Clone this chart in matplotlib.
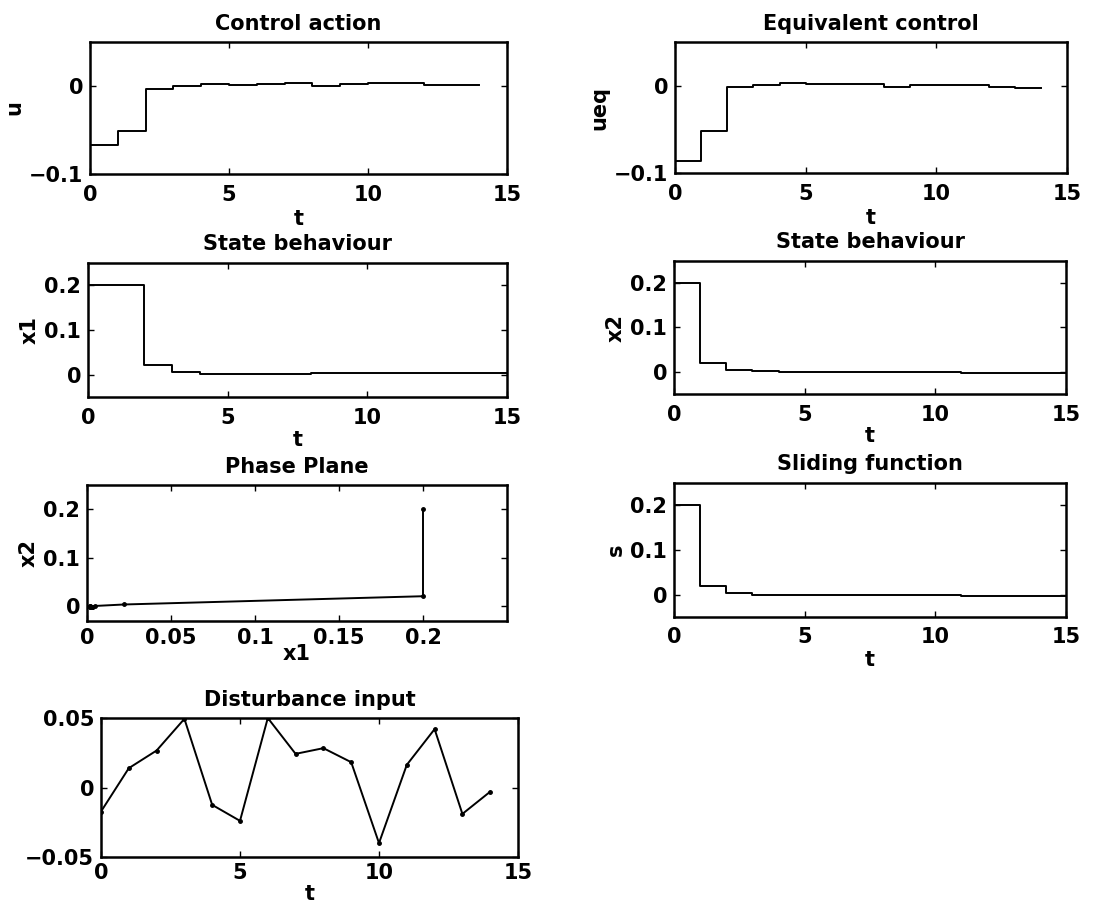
import numpy as np
import matplotlib.pyplot as plt

plt.rcParams['font.family'] = ['DejaVu Sans']
plt.rcParams['font.size'] = 15
plt.rcParams['font.weight'] = 'bold'
plt.rcParams['axes.titleweight'] = 'bold'
plt.rcParams['axes.labelweight'] = 'bold'

# ------------------------------ Data ------------------------------

t_ctrl = np.arange(0, 15)          # 0..14
u = [-0.067, -0.051, -0.003, 0.000, 0.002, 0.001, 0.002, 0.003,
     0.000, 0.002, 0.003, 0.003, 0.001, 0.001, 0.001]
ueq = [-0.086, -0.052, -0.002, 0.001, 0.003, 0.002, 0.002, 0.002,
       -0.001, 0.001, 0.001, 0.001, -0.002, -0.003, -0.003]

t_state = np.arange(0, 16)         # 0..15
x1 = [0.2, 0.2, 0.022, 0.005, 0.002, 0.002, 0.002, 0.002,
      0.003, 0.003, 0.003, 0.003, 0.003, 0.003, 0.003, 0.003]
x2 = [0.2, 0.021, 0.004, 0.001, 0.0, 0.0, -0.001, -0.001,
      -0.001, -0.001, -0.001, -0.002, -0.002, -0.002, -0.002, -0.002]
s = [0.2, 0.0205, 0.004, 0.0, 0.0, 0.0, -0.001, -0.001,
     -0.001, -0.001, -0.001, -0.002, -0.002, -0.002, -0.002, -0.002]

t_dist = np.arange(0, 15)
d = [-0.0173, 0.0139, 0.0266, 0.0494, -0.0125, -0.024, 0.050, 0.0242,
     0.0283, 0.0182, -0.040, 0.0163, 0.042, -0.019, -0.003]

# ------------------------------ Layout helpers ------------------------------

W, H = 1118, 907
fig = plt.figure(figsize=(W / 100, H / 100), dpi=100)


def axes_px(left, top, right, bottom, xpad=5):
    ax = fig.add_axes([left / W, 1 - bottom / H, (right - left) / W, (bottom - top) / H])
    ax.tick_params(direction='in', top=True, right=True, length=4, width=1,
                   labelsize=15, pad=5)
    ax.tick_params(axis='x', pad=xpad)
    for sp in ax.spines.values():
        sp.set_linewidth(1.8)
    return ax


def style(ax, title, xlabel, ylabel, xpad=4):
    ax.set_title(title, fontsize=15, pad=9)
    ax.set_xlabel(xlabel, labelpad=xpad)
    if ylabel:
        ax.set_ylabel(ylabel, labelpad=3)


lw = 1.4

# Control action
ax = axes_px(90, 42, 507, 174, xpad=8)
ax.step(t_ctrl, u, where='post', color='k', lw=lw)
ax.set_xlim(0, 15)
ax.set_ylim(-0.1, 0.05)
ax.set_xticks([0, 5, 10, 15])
ax.set_yticks([-0.1, 0])
ax.set_yticklabels(['\u22120.1', '0'])
style(ax, 'Control action', 't', 'u', xpad=3)

# Equivalent control
ax = axes_px(675, 42, 1067, 173, xpad=8)
ax.step(t_ctrl, ueq, where='post', color='k', lw=lw)
ax.set_xlim(0, 15)
ax.set_ylim(-0.1, 0.05)
ax.set_xticks([0, 5, 10, 15])
ax.set_yticks([-0.1, 0])
ax.set_yticklabels(['\u22120.1', '0'])
style(ax, 'Equivalent control', 't', 'ueq', xpad=3)

# State behaviour x1
ax = axes_px(88, 263, 507, 397, xpad=8)
ax.step(t_state, x1, where='post', color='k', lw=lw)
ax.set_xlim(0, 15)
ax.set_ylim(-0.05, 0.25)
ax.set_xticks([0, 5, 10, 15])
ax.set_yticks([0, 0.1, 0.2])
ax.set_yticklabels(['0', '0.1', '0.2'])
style(ax, 'State behaviour', 't', 'x1', xpad=1)

# State behaviour x2
ax = axes_px(674, 261, 1066, 394, xpad=8)
ax.step(t_state, x2, where='post', color='k', lw=lw)
ax.set_xlim(0, 15)
ax.set_ylim(-0.05, 0.25)
ax.set_xticks([0, 5, 10, 15])
ax.set_yticks([0, 0.1, 0.2])
ax.set_yticklabels(['0', '0.1', '0.2'])
style(ax, 'State behaviour', 't', 'x2', xpad=1)

# Phase plane
ax = axes_px(87, 485, 507, 621, xpad=5)
ax.plot(x1, x2, '-', color='k', lw=lw, marker='.', markersize=5)
ax.set_xlim(0, 0.25)
ax.set_ylim(-0.03, 0.25)
ax.set_xticks([0, 0.05, 0.1, 0.15, 0.2])
ax.set_xticklabels(['0', '0.05', '0.1', '0.15', '0.2'])
ax.set_yticks([0, 0.1, 0.2])
ax.set_yticklabels(['0', '0.1', '0.2'])
style(ax, 'Phase Plane', 'x1', 'x2', xpad=-3)

# Sliding function
ax = axes_px(674, 483, 1066, 617, xpad=7)
ax.step(t_state, s, where='post', color='k', lw=lw)
ax.set_xlim(0, 15)
ax.set_ylim(-0.05, 0.25)
ax.set_xticks([0, 5, 10, 15])
ax.set_yticks([0, 0.1, 0.2])
ax.set_yticklabels(['0', '0.1', '0.2'])
style(ax, 'Sliding function', 't', 's', xpad=2)

# Disturbance input
ax = axes_px(101, 718, 518, 857, xpad=4)
ax.plot(t_dist, d, '-', color='k', lw=lw, marker='.', markersize=5)
ax.set_xlim(0, 15)
ax.set_ylim(-0.05, 0.05)
ax.set_xticks([0, 5, 10, 15])
ax.set_yticks([-0.05, 0, 0.05])
ax.set_yticklabels(['\u22120.05', '0', '0.05'])
style(ax, 'Disturbance input', 't', None, xpad=1)

fig.savefig('out.png', dpi=100)
